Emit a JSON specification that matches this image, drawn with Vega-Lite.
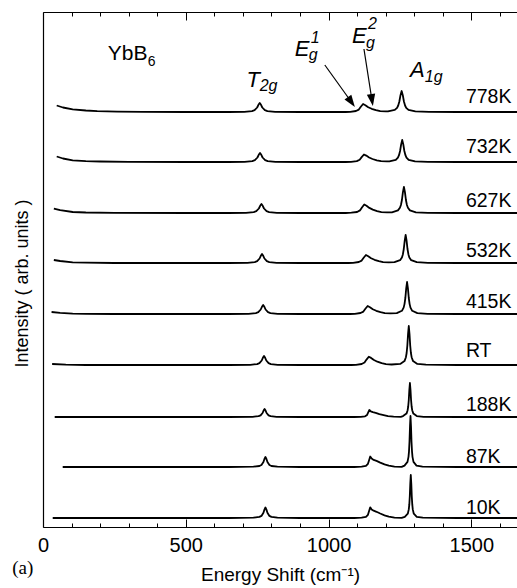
{
  "$schema": "https://vega.github.io/schema/vega-lite/v6.json",
  "width": 474,
  "height": 515,
  "autosize": {"type": "none"},
  "padding": {"left": 43, "top": 12, "right": 0, "bottom": 61},
  "background": "white",
  "config": {
    "view": {"stroke": null},
    "font": "Liberation Sans",
    "axis": {"domainColor": "black", "tickColor": "black", "labelColor": "black", "titleColor": "black", "titleFontWeight": "normal", "grid": false, "labelFont": "Liberation Sans", "titleFont": "Liberation Sans"}
  },
  "datasets": {
    "spectra": [
      {"T":"778K","x":48,"y":421.5},{"T":"778K","x":70,"y":419.5},{"T":"778K","x":104,"y":417.7},{"T":"778K","x":150,"y":416.5},{"T":"778K","x":190,"y":415.9},{"T":"778K","x":260,"y":415.4},{"T":"778K","x":350,"y":415.1},{"T":"778K","x":500,"y":415},{"T":"778K","x":650,"y":415},
      {"T":"778K","x":705,"y":415.2},{"T":"778K","x":732,"y":415.9},{"T":"778K","x":741,"y":416.8},{"T":"778K","x":750,"y":419.5},{"T":"778K","x":754.5,"y":422.2},{"T":"778K","x":759,"y":424},{"T":"778K","x":763.5,"y":422.2},{"T":"778K","x":768,"y":419.5},{"T":"778K","x":777,"y":416.8},{"T":"778K","x":786,"y":415.9},{"T":"778K","x":813,"y":415.2},
      {"T":"778K","x":900,"y":415},{"T":"778K","x":1000,"y":415},{"T":"778K","x":1060,"y":415},
      {"T":"778K","x":1076,"y":415.2},{"T":"778K","x":1096,"y":416},{"T":"778K","x":1106,"y":417.4},{"T":"778K","x":1113,"y":420.2},{"T":"778K","x":1121,"y":423},{"T":"778K","x":1129,"y":421.8},{"T":"778K","x":1139,"y":419.8},{"T":"778K","x":1151,"y":418.2},{"T":"778K","x":1166,"y":416.8},{"T":"778K","x":1181,"y":415.8},{"T":"778K","x":1201,"y":415.6},
      {"T":"778K","x":1208,"y":415.7},{"T":"778K","x":1232,"y":417.1},{"T":"778K","x":1240,"y":419.2},{"T":"778K","x":1244,"y":421.5},{"T":"778K","x":1248,"y":425.5},{"T":"778K","x":1252,"y":431.8},{"T":"778K","x":1256,"y":436},{"T":"778K","x":1260,"y":431.8},{"T":"778K","x":1264,"y":425.5},{"T":"778K","x":1268,"y":421.5},{"T":"778K","x":1272,"y":419.2},{"T":"778K","x":1280,"y":417.1},{"T":"778K","x":1304,"y":415.6},{"T":"778K","x":1352,"y":415.1},
      {"T":"778K","x":1450,"y":415},{"T":"778K","x":1600,"y":415},{"T":"778K","x":1700,"y":415},

      {"T":"732K","x":48,"y":370.5},{"T":"732K","x":70,"y":368.5},{"T":"732K","x":104,"y":366.7},{"T":"732K","x":150,"y":365.9},{"T":"732K","x":200,"y":365.5},{"T":"732K","x":300,"y":365.1},{"T":"732K","x":500,"y":365},{"T":"732K","x":650,"y":365},
      {"T":"732K","x":706,"y":365.2},{"T":"732K","x":733,"y":365.9},{"T":"732K","x":742,"y":366.8},{"T":"732K","x":751,"y":369.5},{"T":"732K","x":755.5,"y":372.2},{"T":"732K","x":760,"y":374},{"T":"732K","x":764.5,"y":372.2},{"T":"732K","x":769,"y":369.5},{"T":"732K","x":778,"y":366.8},{"T":"732K","x":787,"y":365.9},{"T":"732K","x":814,"y":365.2},
      {"T":"732K","x":900,"y":365},{"T":"732K","x":1000,"y":365},{"T":"732K","x":1060,"y":365},
      {"T":"732K","x":1079,"y":365.2},{"T":"732K","x":1099,"y":365.9},{"T":"732K","x":1109,"y":367.3},{"T":"732K","x":1116,"y":369.9},{"T":"732K","x":1124,"y":372.5},{"T":"732K","x":1132,"y":371.4},{"T":"732K","x":1142,"y":369.5},{"T":"732K","x":1154,"y":368},{"T":"732K","x":1169,"y":366.7},{"T":"732K","x":1184,"y":365.8},{"T":"732K","x":1204,"y":365.6},
      {"T":"732K","x":1213,"y":365.6},{"T":"732K","x":1235.5,"y":367.2},{"T":"732K","x":1243,"y":369.4},{"T":"732K","x":1246.8,"y":371.8},{"T":"732K","x":1250.5,"y":376},{"T":"732K","x":1254.3,"y":382.6},{"T":"732K","x":1258,"y":387},{"T":"732K","x":1261.8,"y":382.6},{"T":"732K","x":1265.5,"y":376},{"T":"732K","x":1269.3,"y":371.8},{"T":"732K","x":1273,"y":369.4},{"T":"732K","x":1280.5,"y":367.2},{"T":"732K","x":1303,"y":365.6},{"T":"732K","x":1348,"y":365.2},
      {"T":"732K","x":1450,"y":365},{"T":"732K","x":1600,"y":365},{"T":"732K","x":1700,"y":365},

      {"T":"627K","x":38,"y":318.4},{"T":"627K","x":60,"y":316.8},{"T":"627K","x":104,"y":315},{"T":"627K","x":150,"y":314.5},{"T":"627K","x":250,"y":314.1},{"T":"627K","x":500,"y":314},{"T":"627K","x":650,"y":314},
      {"T":"627K","x":711,"y":314.2},{"T":"627K","x":738,"y":314.9},{"T":"627K","x":747,"y":315.8},{"T":"627K","x":756,"y":318.5},{"T":"627K","x":760.5,"y":321.2},{"T":"627K","x":765,"y":323},{"T":"627K","x":769.5,"y":321.2},{"T":"627K","x":774,"y":318.5},{"T":"627K","x":783,"y":315.8},{"T":"627K","x":792,"y":314.9},{"T":"627K","x":819,"y":314.2},
      {"T":"627K","x":900,"y":314},{"T":"627K","x":1000,"y":314},{"T":"627K","x":1060,"y":314},
      {"T":"627K","x":1080,"y":314.3},{"T":"627K","x":1100,"y":315},{"T":"627K","x":1110,"y":316.6},{"T":"627K","x":1117,"y":319.5},{"T":"627K","x":1125,"y":322.5},{"T":"627K","x":1133,"y":321.2},{"T":"627K","x":1143,"y":319.1},{"T":"627K","x":1155,"y":317.4},{"T":"627K","x":1170,"y":315.9},{"T":"627K","x":1185,"y":314.9},{"T":"627K","x":1205,"y":314.6},
      {"T":"627K","x":1222,"y":314.7},{"T":"627K","x":1243,"y":316.6},{"T":"627K","x":1250,"y":319.2},{"T":"627K","x":1253.5,"y":322},{"T":"627K","x":1257,"y":327},{"T":"627K","x":1260.5,"y":334.8},{"T":"627K","x":1264,"y":340},{"T":"627K","x":1267.5,"y":334.8},{"T":"627K","x":1271,"y":327},{"T":"627K","x":1274.5,"y":322},{"T":"627K","x":1278,"y":319.2},{"T":"627K","x":1285,"y":316.6},{"T":"627K","x":1306,"y":314.7},{"T":"627K","x":1348,"y":314.2},
      {"T":"627K","x":1450,"y":314},{"T":"627K","x":1600,"y":314},{"T":"627K","x":1700,"y":314},

      {"T":"532K","x":38,"y":267},{"T":"532K","x":60,"y":266},{"T":"532K","x":104,"y":264.7},{"T":"532K","x":150,"y":264.3},{"T":"532K","x":250,"y":264},{"T":"532K","x":500,"y":264},{"T":"532K","x":650,"y":264},
      {"T":"532K","x":716,"y":264.2},{"T":"532K","x":741.5,"y":264.9},{"T":"532K","x":750,"y":265.8},{"T":"532K","x":758.5,"y":268.5},{"T":"532K","x":762.8,"y":271.2},{"T":"532K","x":767,"y":273},{"T":"532K","x":771.3,"y":271.2},{"T":"532K","x":775.5,"y":268.5},{"T":"532K","x":784,"y":265.8},{"T":"532K","x":792.5,"y":264.9},{"T":"532K","x":818,"y":264.2},
      {"T":"532K","x":900,"y":264},{"T":"532K","x":1000,"y":264},{"T":"532K","x":1070,"y":264},
      {"T":"532K","x":1086,"y":264.2},{"T":"532K","x":1106,"y":265},{"T":"532K","x":1116,"y":266.4},{"T":"532K","x":1123,"y":269.2},{"T":"532K","x":1131,"y":272},{"T":"532K","x":1139,"y":270.8},{"T":"532K","x":1149,"y":268.8},{"T":"532K","x":1161,"y":267.2},{"T":"532K","x":1176,"y":265.8},{"T":"532K","x":1191,"y":264.8},{"T":"532K","x":1211,"y":264.6},
      {"T":"532K","x":1231,"y":264.8},{"T":"532K","x":1250.5,"y":266.8},{"T":"532K","x":1257,"y":269.6},{"T":"532K","x":1260.3,"y":272.6},{"T":"532K","x":1263.5,"y":278},{"T":"532K","x":1266.8,"y":286.4},{"T":"532K","x":1270,"y":292},{"T":"532K","x":1273.3,"y":286.4},{"T":"532K","x":1276.5,"y":278},{"T":"532K","x":1279.8,"y":272.6},{"T":"532K","x":1283,"y":269.6},{"T":"532K","x":1289.5,"y":266.8},{"T":"532K","x":1309,"y":264.8},{"T":"532K","x":1348,"y":264.2},
      {"T":"532K","x":1450,"y":264},{"T":"532K","x":1600,"y":264},{"T":"532K","x":1700,"y":264},

      {"T":"415K","x":30,"y":215},{"T":"415K","x":60,"y":214.2},{"T":"415K","x":104,"y":213.4},{"T":"415K","x":150,"y":213.2},{"T":"415K","x":250,"y":213},{"T":"415K","x":500,"y":213},{"T":"415K","x":650,"y":213},
      {"T":"415K","x":720,"y":213.2},{"T":"415K","x":745.5,"y":213.9},{"T":"415K","x":754,"y":214.8},{"T":"415K","x":762.5,"y":217.5},{"T":"415K","x":766.8,"y":220.2},{"T":"415K","x":771,"y":222},{"T":"415K","x":775.3,"y":220.2},{"T":"415K","x":779.5,"y":217.5},{"T":"415K","x":788,"y":214.8},{"T":"415K","x":796.5,"y":213.9},{"T":"415K","x":822,"y":213.2},
      {"T":"415K","x":900,"y":213},{"T":"415K","x":1000,"y":213},{"T":"415K","x":1075,"y":213},
      {"T":"415K","x":1092,"y":213.2},{"T":"415K","x":1112,"y":214},{"T":"415K","x":1122,"y":215.4},{"T":"415K","x":1129,"y":218.2},{"T":"415K","x":1137,"y":221},{"T":"415K","x":1145,"y":219.8},{"T":"415K","x":1155,"y":217.8},{"T":"415K","x":1167,"y":216.2},{"T":"415K","x":1182,"y":214.8},{"T":"415K","x":1197,"y":213.8},{"T":"415K","x":1217,"y":213.6},
      {"T":"415K","x":1239,"y":213.9},{"T":"415K","x":1257,"y":216.2},{"T":"415K","x":1263,"y":219.4},{"T":"415K","x":1266,"y":222.9},{"T":"415K","x":1269,"y":229},{"T":"415K","x":1272,"y":238.6},{"T":"415K","x":1275,"y":245},{"T":"415K","x":1278,"y":238.6},{"T":"415K","x":1281,"y":229},{"T":"415K","x":1284,"y":222.9},{"T":"415K","x":1287,"y":219.4},{"T":"415K","x":1293,"y":216.2},{"T":"415K","x":1311,"y":213.9},{"T":"415K","x":1347,"y":213.2},
      {"T":"415K","x":1450,"y":213},{"T":"415K","x":1600,"y":213},{"T":"415K","x":1700,"y":213},

      {"T":"RT","x":32,"y":163},{"T":"RT","x":80,"y":162.4},{"T":"RT","x":150,"y":162},{"T":"RT","x":500,"y":162},{"T":"RT","x":650,"y":162},
      {"T":"RT","x":726,"y":162.2},{"T":"RT","x":750,"y":162.9},{"T":"RT","x":758,"y":163.8},{"T":"RT","x":766,"y":166.5},{"T":"RT","x":770,"y":169.2},{"T":"RT","x":774,"y":171},{"T":"RT","x":778,"y":169.2},{"T":"RT","x":782,"y":166.5},{"T":"RT","x":790,"y":163.8},{"T":"RT","x":798,"y":162.9},{"T":"RT","x":822,"y":162.2},
      {"T":"RT","x":900,"y":162},{"T":"RT","x":1000,"y":162},{"T":"RT","x":1080,"y":162},
      {"T":"RT","x":1096,"y":162.2},{"T":"RT","x":1116,"y":163},{"T":"RT","x":1126,"y":164.5},{"T":"RT","x":1133,"y":167.4},{"T":"RT","x":1141,"y":170.3},{"T":"RT","x":1149,"y":169.1},{"T":"RT","x":1159,"y":167},{"T":"RT","x":1171,"y":165.3},{"T":"RT","x":1186,"y":163.8},{"T":"RT","x":1201,"y":162.8},{"T":"RT","x":1221,"y":162.5},
      {"T":"RT","x":1251,"y":163.1},{"T":"RT","x":1266,"y":165.9},{"T":"RT","x":1271,"y":169.8},{"T":"RT","x":1273.5,"y":174},{"T":"RT","x":1276,"y":181.5},{"T":"RT","x":1278.5,"y":193.2},{"T":"RT","x":1281,"y":201},{"T":"RT","x":1283.5,"y":193.2},{"T":"RT","x":1286,"y":181.5},{"T":"RT","x":1288.5,"y":174},{"T":"RT","x":1291,"y":169.8},{"T":"RT","x":1296,"y":165.9},{"T":"RT","x":1311,"y":163.1},{"T":"RT","x":1341,"y":162.3},
      {"T":"RT","x":1450,"y":162},{"T":"RT","x":1600,"y":162},{"T":"RT","x":1700,"y":162},

      {"T":"188K","x":41,"y":110},{"T":"188K","x":300,"y":110},{"T":"188K","x":500,"y":110},{"T":"188K","x":650,"y":110},
      {"T":"188K","x":734,"y":110.2},{"T":"188K","x":755,"y":110.8},{"T":"188K","x":762,"y":111.6},{"T":"188K","x":769,"y":114},{"T":"188K","x":772.5,"y":116.4},{"T":"188K","x":776,"y":118},{"T":"188K","x":779.5,"y":116.4},{"T":"188K","x":783,"y":114},{"T":"188K","x":790,"y":111.6},{"T":"188K","x":797,"y":110.8},{"T":"188K","x":818,"y":110.2},
      {"T":"188K","x":900,"y":110},{"T":"188K","x":1000,"y":110},{"T":"188K","x":1090,"y":110},
      {"T":"188K","x":1113,"y":110.2},{"T":"188K","x":1128,"y":110.7},{"T":"188K","x":1135,"y":112.1},{"T":"188K","x":1139,"y":114.6},{"T":"188K","x":1143,"y":117},{"T":"188K","x":1148,"y":115.6},{"T":"188K","x":1155,"y":114.8},{"T":"188K","x":1165,"y":114.1},{"T":"188K","x":1178,"y":112.9},{"T":"188K","x":1193,"y":111.8},{"T":"188K","x":1208,"y":110.8},{"T":"188K","x":1228,"y":110.3},{"T":"188K","x":1253,"y":110.1},
      {"T":"188K","x":1261,"y":110.9},{"T":"188K","x":1273,"y":113.4},{"T":"188K","x":1277,"y":116.8},{"T":"188K","x":1279,"y":120.5},{"T":"188K","x":1281,"y":127},{"T":"188K","x":1283,"y":137.2},{"T":"188K","x":1285,"y":144},{"T":"188K","x":1287,"y":137.2},{"T":"188K","x":1289,"y":127},{"T":"188K","x":1291,"y":120.5},{"T":"188K","x":1293,"y":116.8},{"T":"188K","x":1297,"y":113.4},{"T":"188K","x":1309,"y":110.9},{"T":"188K","x":1333,"y":110.2},
      {"T":"188K","x":1450,"y":110},{"T":"188K","x":1600,"y":110},{"T":"188K","x":1700,"y":110},

      {"T":"87K","x":69,"y":60},{"T":"87K","x":300,"y":60},{"T":"87K","x":500,"y":60},{"T":"87K","x":650,"y":60},
      {"T":"87K","x":737,"y":60.3},{"T":"87K","x":758,"y":61},{"T":"87K","x":765,"y":62},{"T":"87K","x":772,"y":65},{"T":"87K","x":775.5,"y":68},{"T":"87K","x":779,"y":70},{"T":"87K","x":782.5,"y":68},{"T":"87K","x":786,"y":65},{"T":"87K","x":793,"y":62},{"T":"87K","x":800,"y":61},{"T":"87K","x":821,"y":60.3},
      {"T":"87K","x":900,"y":60},{"T":"87K","x":1000,"y":60},{"T":"87K","x":1090,"y":60},
      {"T":"87K","x":1116,"y":60.3},{"T":"87K","x":1131,"y":61.1},{"T":"87K","x":1138,"y":63.2},{"T":"87K","x":1142,"y":66.8},{"T":"87K","x":1146,"y":70.5},{"T":"87K","x":1151,"y":68.4},{"T":"87K","x":1158,"y":67.1},{"T":"87K","x":1168,"y":66.1},{"T":"87K","x":1181,"y":64.4},{"T":"87K","x":1196,"y":62.6},{"T":"87K","x":1211,"y":61.3},{"T":"87K","x":1231,"y":60.4},{"T":"87K","x":1256,"y":60.1},
      {"T":"87K","x":1266,"y":61.4},{"T":"87K","x":1276.5,"y":65.1},{"T":"87K","x":1280,"y":70.2},{"T":"87K","x":1281.8,"y":75.7},{"T":"87K","x":1283.5,"y":85.5},{"T":"87K","x":1285.3,"y":100.8},{"T":"87K","x":1287,"y":111},{"T":"87K","x":1288.8,"y":100.8},{"T":"87K","x":1290.5,"y":85.5},{"T":"87K","x":1292.3,"y":75.7},{"T":"87K","x":1294,"y":70.2},{"T":"87K","x":1297.5,"y":65.1},{"T":"87K","x":1308,"y":61.4},{"T":"87K","x":1329,"y":60.4},
      {"T":"87K","x":1450,"y":60},{"T":"87K","x":1600,"y":60},{"T":"87K","x":1700,"y":60},

      {"T":"10K","x":34,"y":9},{"T":"10K","x":300,"y":9},{"T":"10K","x":500,"y":9},{"T":"10K","x":650,"y":9},
      {"T":"10K","x":737,"y":9.3},{"T":"10K","x":758,"y":10.1},{"T":"10K","x":765,"y":11.1},{"T":"10K","x":772,"y":14.3},{"T":"10K","x":775.5,"y":17.4},{"T":"10K","x":779,"y":19.5},{"T":"10K","x":782.5,"y":17.4},{"T":"10K","x":786,"y":14.3},{"T":"10K","x":793,"y":11.1},{"T":"10K","x":800,"y":10.1},{"T":"10K","x":821,"y":9.3},
      {"T":"10K","x":900,"y":9},{"T":"10K","x":1000,"y":9},{"T":"10K","x":1090,"y":9},
      {"T":"10K","x":1116,"y":9.3},{"T":"10K","x":1131,"y":10.1},{"T":"10K","x":1138,"y":12.2},{"T":"10K","x":1142,"y":16},{"T":"10K","x":1146,"y":19.7},{"T":"10K","x":1151,"y":17.6},{"T":"10K","x":1158,"y":16.3},{"T":"10K","x":1168,"y":15.2},{"T":"10K","x":1181,"y":13.5},{"T":"10K","x":1196,"y":11.7},{"T":"10K","x":1211,"y":10.3},{"T":"10K","x":1231,"y":9.4},{"T":"10K","x":1256,"y":9.1},
      {"T":"10K","x":1267,"y":10.2},{"T":"10K","x":1277.5,"y":13.3},{"T":"10K","x":1281,"y":17.6},{"T":"10K","x":1282.8,"y":22.3},{"T":"10K","x":1284.5,"y":30.5},{"T":"10K","x":1286.3,"y":43.4},{"T":"10K","x":1288,"y":52},{"T":"10K","x":1289.8,"y":43.4},{"T":"10K","x":1291.5,"y":30.5},{"T":"10K","x":1293.3,"y":22.3},{"T":"10K","x":1295,"y":17.6},{"T":"10K","x":1298.5,"y":13.3},{"T":"10K","x":1309,"y":10.2},{"T":"10K","x":1330,"y":9.3},
      {"T":"10K","x":1450,"y":9},{"T":"10K","x":1600,"y":9},{"T":"10K","x":1700,"y":9}
    ],
    "temps": [
      {"t":"778K","x":1481,"y":424},{"t":"732K","x":1481,"y":374},{"t":"627K","x":1481,"y":320},
      {"t":"532K","x":1481,"y":270.5},{"t":"415K","x":1481,"y":219.5},{"t":"RT","x":1481,"y":170},
      {"t":"188K","x":1481,"y":116},{"t":"87K","x":1481,"y":64.5},{"t":"10K","x":1481,"y":13.5}
    ],
    "main": [{"t":"YbB","x":227,"y":467}],
    "mainsub": [{"t":"6","x":367,"y":461}],
    "sym": [{"t":"T","x":713,"y":440},{"t":"E","x":882,"y":471},{"t":"E","x":1082,"y":484},{"t":"A","x":1285,"y":450}],
    "symsub": [{"t":"2g","x":759,"y":436},{"t":"g","x":931,"y":467},{"t":"1","x":938,"y":484},{"t":"g","x":1131,"y":479},{"t":"2","x":1138,"y":498},{"t":"1g","x":1337,"y":445}],
    "arrows": [
      {"a":"1","x":987,"y":462},{"a":"1","x":1080,"y":425},
      {"a":"2","x":1124,"y":478},{"a":"2","x":1152,"y":427}
    ],
    "heads": [{"a":"1","x":1080,"y":425},{"a":"2","x":1152,"y":427}],
    "panel": [{"t":"(a)","x":-108,"y":-47}]
  },
  "layer": [
    {
      "data": {"name": "spectra"},
      "mark": {"type": "line", "color": "black", "strokeWidth": 1.8, "clip": true, "strokeJoin": "round"},
      "encoding": {
        "x": {
          "field": "x", "type": "quantitative",
          "scale": {"domain": [0, 1660], "nice": false, "zero": false},
          "axis": {
            "orient": "bottom",
            "values": [0, 500, 1000, 1500],
            "tickSize": -8,
            "format": "d",
            "labelFontSize": 20,
            "labelPadding": 16,
            "labelFlush": false,
            "labelBound": false,
            "labelOverlap": false,
            "domainWidth": 1.2,
            "tickWidth": 1,
            "title": "Energy Shift (cm⁻¹)",
            "titleFontSize": 19,
            "titleBaseline": "alphabetic",
            "titleY": 53
          }
        },
        "y": {
          "field": "y", "type": "quantitative",
          "scale": {"domain": [0, 515], "nice": false, "zero": false},
          "axis": {
            "orient": "left", "ticks": false, "labels": false, "domainWidth": 1.2,
            "title": "Intensity ( arb. units )", "titleFontSize": 18,
            "titleBaseline": "alphabetic", "titleX": -16, "titleY": 271
          }
        },
        "detail": {"field": "T"}
      }
    },
    {
      "data": {"name": "temps"},
      "mark": {"type": "text", "align": "left", "baseline": "alphabetic", "fontSize": 19.5, "color": "black"},
      "encoding": {
        "x": {
          "field": "x", "type": "quantitative",
          "axis": {"orient": "top", "values": [0, 500, 1000, 1500], "tickSize": -8, "labels": false, "title": null, "domainWidth": 1.2, "tickWidth": 1}
        },
        "y": {"field": "y", "type": "quantitative"},
        "text": {"field": "t"}
      }
    },
    {
      "data": {"name": "main"},
      "mark": {"type": "text", "align": "left", "baseline": "alphabetic", "fontSize": 21, "color": "black"},
      "encoding": {
        "x": {
          "field": "x", "type": "quantitative",
          "axis": {"orient": "bottom", "values": [100,200,300,400,600,700,800,900,1100,1200,1300,1400,1600], "tickSize": -4, "labels": false, "title": null, "domain": false, "tickWidth": 1}
        },
        "y": {"field": "y", "type": "quantitative"},
        "text": {"field": "t"}
      }
    },
    {
      "data": {"name": "mainsub"},
      "mark": {"type": "text", "align": "left", "baseline": "alphabetic", "fontSize": 14, "color": "black"},
      "encoding": {
        "x": {
          "field": "x", "type": "quantitative",
          "axis": {"orient": "top", "values": [100,200,300,400,600,700,800,900,1100,1200,1300,1400,1600], "tickSize": -4, "labels": false, "title": null, "domain": false, "tickWidth": 1}
        },
        "y": {"field": "y", "type": "quantitative"},
        "text": {"field": "t"}
      }
    },
    {
      "data": {"name": "sym"},
      "mark": {"type": "text", "align": "left", "baseline": "alphabetic", "fontSize": 22, "fontStyle": "italic", "color": "black"},
      "encoding": {
        "x": {"field": "x", "type": "quantitative", "axis": null},
        "y": {"field": "y", "type": "quantitative"},
        "text": {"field": "t"}
      }
    },
    {
      "data": {"name": "symsub"},
      "mark": {"type": "text", "align": "left", "baseline": "alphabetic", "fontSize": 16, "fontStyle": "italic", "color": "black"},
      "encoding": {
        "x": {"field": "x", "type": "quantitative", "axis": null},
        "y": {"field": "y", "type": "quantitative"},
        "text": {"field": "t"}
      }
    },
    {
      "data": {"name": "arrows"},
      "mark": {"type": "line", "color": "black", "strokeWidth": 1.2},
      "encoding": {
        "x": {"field": "x", "type": "quantitative", "axis": null},
        "y": {"field": "y", "type": "quantitative"},
        "detail": {"field": "a"}
      }
    },
    {
      "data": {"name": "heads"},
      "transform": [{"filter": "datum.a === '1'"}],
      "mark": {"type": "point", "shape": "M-0.7,-1L0.7,-1L0,1Z", "filled": true, "color": "black", "opacity": 1, "size": 144, "angle": -35.5},
      "encoding": {
        "x": {"field": "x", "type": "quantitative", "axis": null},
        "y": {"field": "y", "type": "quantitative"}
      }
    },
    {
      "data": {"name": "heads"},
      "transform": [{"filter": "datum.a === '2'"}],
      "mark": {"type": "point", "shape": "M-0.7,-1L0.7,-1L0,1Z", "filled": true, "color": "black", "opacity": 1, "size": 144, "angle": -9},
      "encoding": {
        "x": {"field": "x", "type": "quantitative", "axis": null},
        "y": {"field": "y", "type": "quantitative"}
      }
    },
    {
      "data": {"name": "panel"},
      "mark": {"type": "text", "align": "left", "baseline": "alphabetic", "fontSize": 19, "font": "Liberation Serif", "color": "black"},
      "encoding": {
        "x": {"field": "x", "type": "quantitative", "axis": null},
        "y": {"field": "y", "type": "quantitative"},
        "text": {"field": "t"}
      }
    }
  ],
  "resolve": {"axis": {"x": "independent"}}
}
